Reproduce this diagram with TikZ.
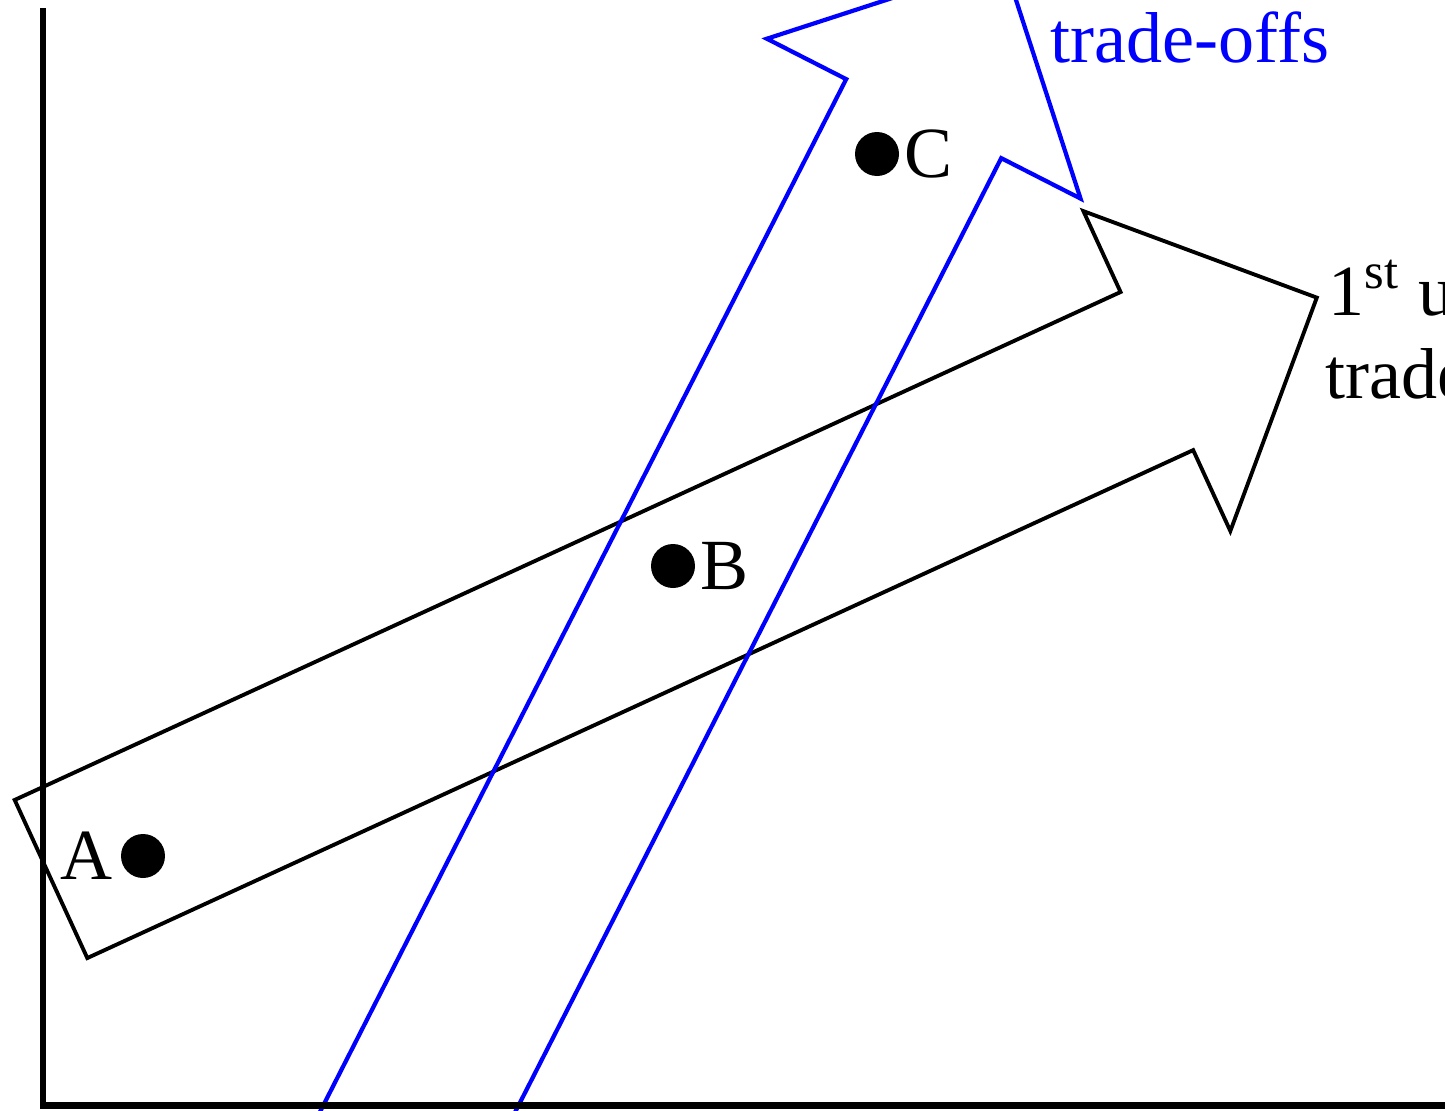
\documentclass[tikz,border=0pt]{standalone}
\usepackage{fontspec}
\setmainfont{Liberation Serif}
\usetikzlibrary{positioning}
\definecolor{arBlue}{HTML}{0000FF}

\tikzset{
  fatarrow/.pic={
    \draw[pic actions] (0,0.87) -- (12.17,0.87) -- (12.17,1.76) -- (13.93,0)
      -- (12.17,-1.76) -- (12.17,-0.87) -- (0,-0.87) -- cycle;
  }
}

\begin{document}
\begin{tikzpicture}[
  every node/.style={font=\fontsize{20.5}{24}\selectfont},
  dot/.style={circle, fill=black, inner sep=0pt, minimum size=4.4mm},
  lab/.style={inner sep=0pt},
  axis/.style={line width=1.8pt},
  band/.style={line width=1.1pt}
]
 \useasboundingbox (0,0) rectangle (14.45,11.10);
 \clip (0,0) rectangle (14.45,11.10);

 % Trade-off arrows
 \pic[band, draw=black, rotate=24.67] at (0.51,2.31) {fatarrow};
 \pic[band, draw=arBlue, line width=1.2pt, rotate=63.0] at (3.712,-0.93) {fatarrow};

 % Axes
 \draw[axis] (0.43,11.02) |- (14.6,0.045);

 % Points
 \node[dot] (ptA) at (1.43,2.54) {};
 \node[dot] (ptB) at (6.73,5.44) {};
 \node[dot] (ptC) at (8.77,9.56) {};
 \node[lab, left=0.7mm of ptA] (labA) {A};
 \node[lab, right=0.4mm of ptB] (labB) {B};
 \node[lab, right=0.4mm of ptC] (labC) {C};

 % Arrow labels
 \node[lab, anchor=base west, text=arBlue] (labBlue) at (10.50,10.48) {trade-offs};
 \node[lab, anchor=base west] (labBlackA) at (13.28,7.95) {1\textsuperscript{st} u};
 \node[lab, anchor=base west] (labBlackB) at (13.25,7.12) {trade-offs};
\end{tikzpicture}
\end{document}
